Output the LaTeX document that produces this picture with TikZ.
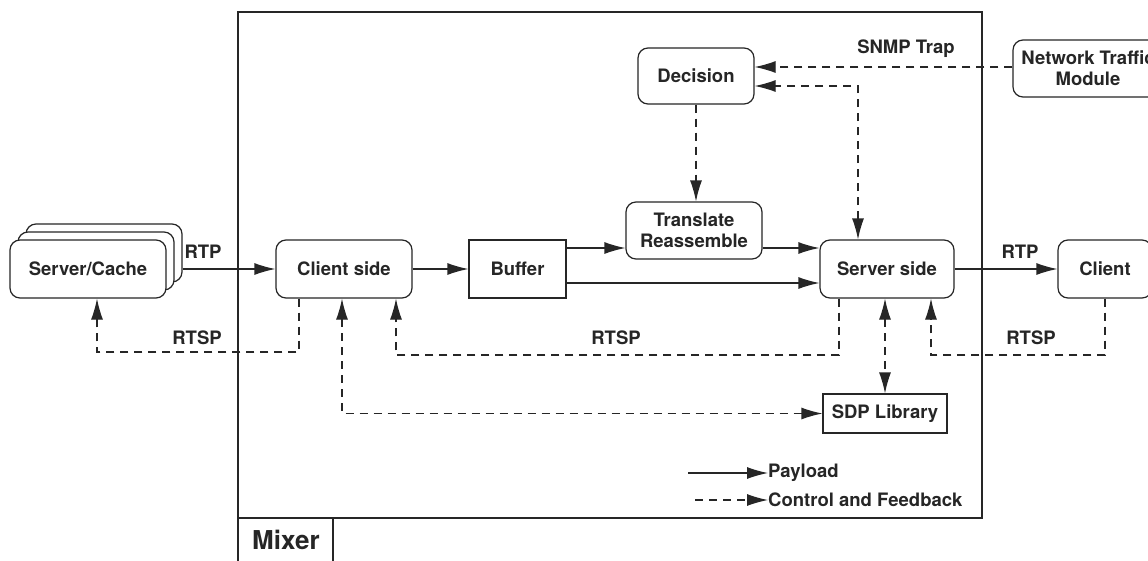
\documentclass[tikz,border=0pt]{standalone}
\usepackage{fontspec}
\setmainfont{TeX Gyre Heros}
\usetikzlibrary{arrows.meta}
\definecolor{ink}{HTML}{262626}
\begin{document}
\begin{tikzpicture}[x=1pt,y=-1pt,
  every node/.style={font=\fontsize{18.5}{21}\selectfont\bfseries, text=ink},
  rbox/.style={draw=ink, line width=1.2pt, rounded corners=10pt, fill=white, inner sep=0pt, align=center},
  sbox/.style={draw=ink, line width=1.2pt, fill=white, inner sep=0pt, align=center},
  pay/.style={draw=ink, line width=1.2pt, -{Latex[length=21pt,width=12pt]}},
  ctl/.style={draw=ink, line width=1.2pt, dash pattern=on 8pt off 6pt, -{Latex[length=21pt,width=12pt]}},
  ctlb/.style={draw=ink, line width=1.2pt, dash pattern=on 8pt off 6pt, {Latex[length=21pt,width=12pt]}-{Latex[length=21pt,width=12pt]}},
  lbl/.style={inner sep=0pt}
]
\useasboundingbox (0,0) rectangle (1148,560);
\clip (0,0) rectangle (1148,560);
\fill[white] (0,0) rectangle (1148,560);

% Mixer frame
\draw[ink, line width=2.6pt] (238,12) rectangle (982,518);
\draw[ink, line width=2.6pt] (238,518) -- (238,565) (238,518) -- (333,518) -- (333,565);
\node[lbl, font=\fontsize{26}{28}\selectfont\bfseries] (mixer) at (286,540) {Mixer};

% Server/Cache stack
\node[rbox, minimum width=156pt, minimum height=58pt] (sc3) at (104,253) {};
\node[rbox, minimum width=156pt, minimum height=58pt] (sc2) at (96,261) {};
\node[rbox, minimum width=156pt, minimum height=58pt] (sc) at (88,269) {Server/Cache};

% main boxes
\node[rbox, minimum width=136pt, minimum height=58pt] (cs) at (344,269) {Client side};
\node[sbox, minimum width=97pt, minimum height=58pt] (buf) at (517.5,269) {Buffer};
\node[rbox, minimum width=136pt, minimum height=57pt] (tr) at (694,230.5) {Translate\\Reassemble};
\node[rbox, minimum width=134pt, minimum height=58pt] (ss) at (887,269) {Server side};
\node[rbox, minimum width=94pt, minimum height=58pt] (cl) at (1105,269) {Client};
\node[rbox, minimum width=116pt, minimum height=56pt] (dec) at (696,76) {Decision};
\node[rbox, minimum width=150pt, minimum height=57pt] (ntm) at (1088,68.5) {Network Traffic\\Module};
\node[sbox, minimum width=124pt, minimum height=39pt] (sdp) at (885,413.5) {SDP Library};

% payload arrows
\draw[pay] (sc3.east |- cs.west) -- (cs.west);
\draw[pay] (cs.east) -- (buf.west);
\draw[pay] (buf.east |- 0,248) -- (tr.west |- 0,248);
\draw[pay] (tr.east |- 0,248) -- (ss.west |- 0,248);
\draw[pay] (buf.east |- 0,283) -- (ss.west |- 0,283);
\draw[pay] (ss.east) -- (cl.west);

% control arrows
\draw[ctl] (cs.south -| 299,0) -- (299,352) -- (97,352) -- (sc.south -| 97,0);
\draw[ctlb] (cs.south -| 342,0) -- (342,413.5) -- (sdp.west);
\draw[ctl] (ss.south -| 839,0) -- (839,355) -- (396,355) -- (cs.south -| 396,0);
\draw[ctlb] (ss.south -| 885,0) -- (sdp.north);
\draw[ctl] (cl.south -| 1105,0) -- (1105,355) -- (931,355) -- (ss.south -| 931,0);
\draw[ctl] (ntm.west |- 0,67) -- (dec.east |- 0,67);
\draw[ctlb] (ss.north -| 858,0) -- (858,86) -- (dec.east |- 0,86);
\draw[ctl] (dec.south -| 696,0) -- (tr.north -| 696,0);

% labels
\node[lbl] (rtp1) at (203,252) {RTP};
\node[lbl] (rtsp1) at (197,338) {RTSP};
\node[lbl] (rtsp2) at (616,338) {RTSP};
\node[lbl] (rtsp3) at (1031,338) {RTSP};
\node[lbl] (rtp2) at (1020,252) {RTP};
\node[lbl] (snmp) at (906,49) {SNMP Trap};

% legend
\coordinate (lp1) at (688,473);
\node[lbl, anchor=west] (lpay) at (768,473) {Payload};
\draw[pay] (lp1) -- (lpay.west);
\coordinate (lc1) at (695,500);
\node[lbl, anchor=west] (lctl) at (768,500) {Control and Feedback};
\draw[ctl] (lc1) -- (lctl.west);
\end{tikzpicture}
\end{document}
